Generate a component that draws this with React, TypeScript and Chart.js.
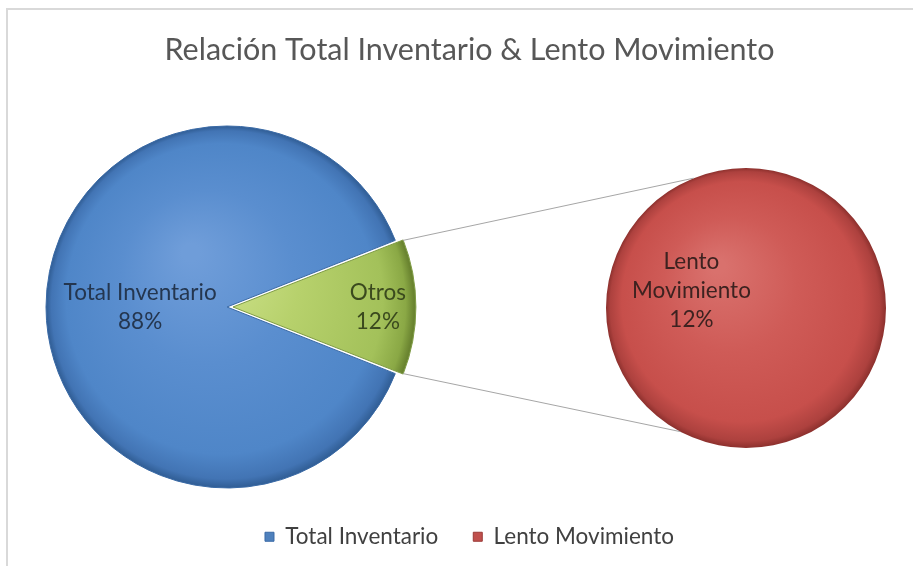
import React, { useEffect, useRef } from "react";
import { Chart, registerables } from "chart.js";

Chart.register(...registerables);

// ---- data ----
const TITLE = "Relación Total Inventario & Lento Movimiento";
const CATEGORIES = ["Total Inventario", "Otros", "Lento Movimiento"];
const PRIMARY_VALUES = [88, 12, 0];
const SECONDARY_VALUES = [0, 0, 12];
const LEGEND_ITEMS = ["Total Inventario", "Lento Movimiento"];

// ---- layout / style ----
const W = 913;
const H = 566;
const PIE1 = { x: 227, y: 307, r: 181 };
const PIE2 = { x: 746, y: 308, r: 140 };
const FONT = "Lato, 'Open Sans', sans-serif";
const SOLID = ["#4f81bd", "#9bbb59", "#c0504d"];
const EDGE = ["#3a6aa6", "#7f9c44", "#9a3a37"];
const STOPS: Array<Array<[number, string]>> = [
  [[0, "#6f9dd9"], [0.45, "#5a8ecf"], [0.85, "#4f86c8"], [0.96, "#4274b4"], [1, "#305d94"]],
  [[0, "#d3e692"], [0.45, "#b7d16c"], [0.85, "#a3c15a"], [0.96, "#8aa845"], [1, "#6a8430"]],
  [[0, "#d9716d"], [0.45, "#cf5b57"], [0.85, "#c74f4b"], [0.96, "#ad413e"], [1, "#8c302d"]],
];
const LABEL_COLORS = ["#24364f", "#3b4a1e", "#3d2220"];
const LABEL_FRAC = [0.48, 0.79];
const SECONDARY_LABEL = { angle: 198, frac: 0.41 };
const CONNECTOR_ANGLES = [-112, 118];

function gradientFor(ctx: CanvasRenderingContext2D, L: { x: number; y: number; r: number }, idx: number) {
  const g = ctx.createRadialGradient(L.x - L.r * 0.2, L.y - L.r * 0.3, L.r * 0.05, L.x, L.y, L.r);
  STOPS[idx].forEach(([o, c]) => g.addColorStop(o, c));
  return g;
}

function displacement(arc: any) {
  const off = ((arc.options && arc.options.offset) || 0) / 4;
  const circ = arc.endAngle - arc.startAngle;
  const fix = 1 - Math.sin(Math.min(Math.PI, circ || 0));
  const total = off * (1 + fix);
  const mid = (arc.startAngle + arc.endAngle) / 2;
  return { dx: Math.cos(mid) * total, dy: Math.sin(mid) * total };
}

const pieOfPie = {
  id: "pieOfPie",
  afterDatasetsUpdate(chart: any) {
    const layouts = [PIE1, PIE2];
    chart.data.datasets.forEach((_: any, i: number) => {
      const meta = chart.getDatasetMeta(i);
      const L = layouts[i];
      meta.data.forEach((arc: any) => {
        arc.x = L.x;
        arc.y = L.y;
        arc.outerRadius = L.r;
        arc.innerRadius = 0;
      });
    });
  },
  beforeDraw(chart: any) {
    const ctx = chart.ctx as CanvasRenderingContext2D;
    ctx.save();
    ctx.fillStyle = "#ffffff";
    ctx.fillRect(0, 0, chart.width, chart.height);
    ctx.strokeStyle = "#d9d9d9";
    ctx.lineWidth = 2;
    ctx.beginPath();
    ctx.moveTo(7, chart.height);
    ctx.lineTo(7, 9);
    ctx.lineTo(chart.width, 9);
    ctx.stroke();
    ctx.restore();
  },
  afterDatasetsDraw(chart: any) {
    const ctx = chart.ctx as CanvasRenderingContext2D;
    const m0 = chart.getDatasetMeta(0);
    const m1 = chart.getDatasetMeta(1);
    const total = PRIMARY_VALUES.reduce((a, b) => a + b, 0);

    // connector lines from the split slice to the secondary pie
    const split = m0.data[1];
    const red = m1.data[2];
    const d = displacement(split);
    const corners = [split.startAngle, split.endAngle].map((a: number) => ({
      x: split.x + d.dx + Math.cos(a) * split.outerRadius,
      y: split.y + d.dy + Math.sin(a) * split.outerRadius,
    }));
    const ends = CONNECTOR_ANGLES.map((deg) => {
      const a = (deg * Math.PI) / 180;
      return { x: red.x + Math.cos(a) * red.outerRadius, y: red.y + Math.sin(a) * red.outerRadius };
    });
    ctx.save();
    ctx.strokeStyle = "#a6a6a6";
    ctx.lineWidth = 1;
    [0, 1].forEach((k) => {
      ctx.beginPath();
      ctx.moveTo(corners[k].x, corners[k].y);
      ctx.lineTo(ends[k].x, ends[k].y);
      ctx.stroke();
    });

    // data labels
    ctx.font = `22.5px ${FONT}`;
    ctx.textAlign = "center";
    ctx.textBaseline = "middle";
    const lh = 29;
    const drawLines = (lines: string[], cx: number, cy: number, color: string) => {
      ctx.fillStyle = color;
      const y0 = cy - ((lines.length - 1) * lh) / 2;
      lines.forEach((t, i) => ctx.fillText(t, cx, y0 + i * lh));
    };
    PRIMARY_VALUES.forEach((v, j) => {
      if (!v) return;
      const arc = m0.data[j];
      const dd = displacement(arc);
      const mid = (arc.startAngle + arc.endAngle) / 2;
      const cx = arc.x + dd.dx + Math.cos(mid) * arc.outerRadius * LABEL_FRAC[j];
      const cy = arc.y + dd.dy + Math.sin(mid) * arc.outerRadius * LABEL_FRAC[j];
      drawLines([CATEGORIES[j], Math.round((v / total) * 100) + "%"], cx, cy, LABEL_COLORS[j]);
    });
    SECONDARY_VALUES.forEach((v, j) => {
      if (!v) return;
      const arc = m1.data[j];
      const a = (SECONDARY_LABEL.angle * Math.PI) / 180;
      const cx = arc.x + Math.cos(a) * arc.outerRadius * SECONDARY_LABEL.frac;
      const cy = arc.y + Math.sin(a) * arc.outerRadius * SECONDARY_LABEL.frac;
      drawLines([...CATEGORIES[j].split(" "), Math.round((v / total) * 100) + "%"], cx, cy, LABEL_COLORS[j]);
    });
    ctx.restore();
  },
};

export default function App() {
  const ref = useRef<HTMLCanvasElement | null>(null);
  useEffect(() => {
    if (!ref.current) return;
    const chart = new Chart(ref.current, {
      type: "pie",
      data: {
        labels: CATEGORIES,
        datasets: [
          {
            data: PRIMARY_VALUES,
            rotation: 111.6,
            offset: [0, 24, 0],
            borderWidth: 1,
            borderColor: EDGE,
            backgroundColor: (c: any) => gradientFor(c.chart.ctx, PIE1, c.dataIndex),
          } as any,
          {
            data: SECONDARY_VALUES,
            borderWidth: 0,
            backgroundColor: (c: any) => gradientFor(c.chart.ctx, PIE2, c.dataIndex),
          } as any,
        ],
      },
      options: {
        responsive: false,
        animation: false,
        devicePixelRatio: 1,
        events: [],
        layout: { padding: { bottom: 8, left: 26 } },
        plugins: {
          tooltip: { enabled: false },
          title: {
            display: true,
            text: TITLE,
            color: "#575757",
            font: { family: FONT, size: 30.5, weight: "normal" },
            padding: { top: 32, bottom: 10 },
          },
          legend: {
            display: true,
            position: "bottom",
            labels: {
              boxWidth: 9,
              boxHeight: 9,
              padding: 35,
              color: "#404040",
              font: { family: FONT, size: 22.5 },
              generateLabels: () =>
                LEGEND_ITEMS.map((name) => {
                  const idx = CATEGORIES.indexOf(name);
                  return {
                    text: name,
                    fillStyle: SOLID[idx],
                    strokeStyle: EDGE[idx],
                    lineWidth: 1,
                    hidden: false,
                    index: idx,
                    fontColor: "#404040",
                  } as any;
                }),
            },
          },
        },
      } as any,
      plugins: [pieOfPie],
    });
    return () => chart.destroy();
  }, []);
  return (
    <div style={{ position: "absolute", left: 0, top: 0, width: W, height: H, background: "#fff" }}>
      <canvas ref={ref} width={W} height={H} />
    </div>
  );
}
